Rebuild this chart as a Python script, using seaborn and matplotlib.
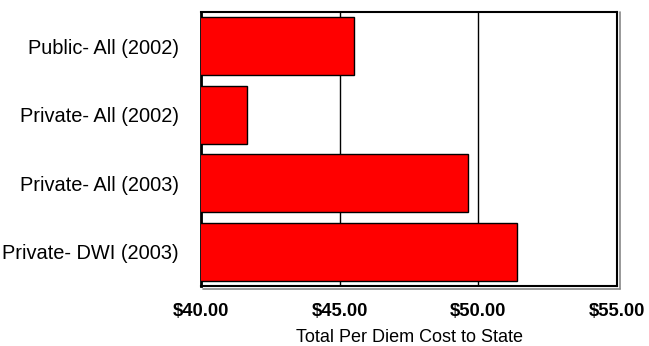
import matplotlib
matplotlib.use("Agg")
import matplotlib.pyplot as plt
from matplotlib.lines import Line2D
from matplotlib.ticker import FixedLocator
import seaborn as sns
import pandas as pd

# Per diem cost by facility type and year
categories = ["Public- All (2002)", "Private- All (2002)", "Private- All (2003)", "Private- DWI (2003)"]
cost = [45.51, 41.67, 49.64, 51.38]
x_ticks = [40, 45, 50, 55]
x_tick_labels = ["$40.00", "$45.00", "$50.00", "$55.00"]

df = pd.DataFrame({"facility": categories, "cost": cost})

sns.set_theme(style="white")
plt.rcParams["font.family"] = ["Liberation Sans", "DejaVu Sans"]

fig = plt.figure(figsize=(6.49, 3.46), dpi=100)
ax = fig.add_axes([201 / 649, 1 - 286 / 346, (617 - 201) / 649, (286 - 12) / 346])

sns.barplot(data=df, x="cost", y="facility", orient="h", color="#ff0000",
            saturation=1, width=0.84, edgecolor="black", linewidth=1.0, ax=ax, zorder=3)

ax.set_xlim(40, 55)
ax.xaxis.set_major_locator(FixedLocator(x_ticks))
ax.set_xticklabels(x_tick_labels, fontsize=13.3, fontweight="bold")
ax.tick_params(axis="x", length=0, pad=12)
ax.tick_params(axis="y", length=0, pad=16, labelsize=14.4)
for lbl in ax.get_yticklabels():
    lbl.set_color("black")
for lbl in ax.get_xticklabels():
    lbl.set_color("black")

ax.set_ylabel("")
ax.set_xlabel("Total Per Diem Cost to State", fontsize=13, color="black", labelpad=7)

# vertical gridlines behind the bars
ax.grid(axis="x", color="black", linewidth=1.0, zorder=0)
ax.grid(axis="y", visible=False)
ax.set_axisbelow(True)

for side in ["left", "top", "right", "bottom"]:
    ax.spines[side].set_visible(True)
    ax.spines[side].set_color("black")
ax.spines["left"].set_linewidth(2.0)
ax.spines["top"].set_linewidth(1.5)
ax.spines["right"].set_linewidth(1.5)
ax.spines["bottom"].set_linewidth(1.5)

# offset gray frame lines on the right and bottom
W, H = 649, 346
fig.add_artist(Line2D([620 / W, 620 / W], [1 - 12 / H, 1 - 289 / H],
                      color="#888888", linewidth=1.2, transform=fig.transFigure))
fig.add_artist(Line2D([203 / W, 620 / W], [1 - 289 / H, 1 - 289 / H],
                      color="#888888", linewidth=1.2, transform=fig.transFigure))

fig.savefig("out.png", dpi=100, facecolor="white")
